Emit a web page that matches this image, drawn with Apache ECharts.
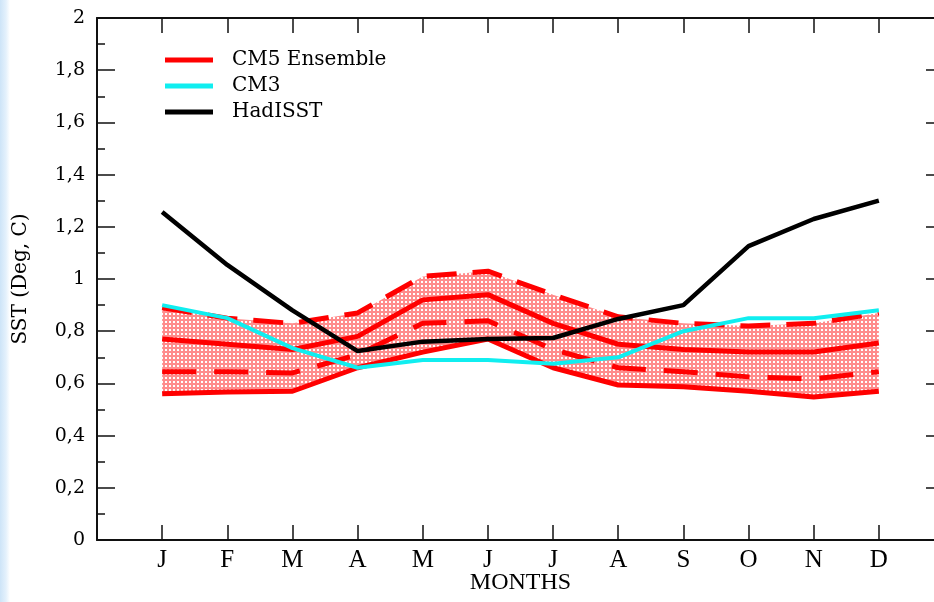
<!DOCTYPE html>
<html><head><meta charset="utf-8">
<script src="https://cdn.jsdelivr.net/npm/echarts@6/dist/echarts.min.js"></script>
<style>
html,body{margin:0;padding:0;width:934px;height:602px;overflow:hidden;background:linear-gradient(to right,#cde4f8 0px,#e4f1fc 6px,#ffffff 10px);}
#c{width:950px;height:602px;}
</style></head><body><div id="c"></div>
<script>
const months = ['J','F','M','A','M','J','J','A','S','O','N','D'];
const monthPos = [1,2,3,4,5,6,7,8,9,10,11,12];
const cm5Top    = [0.89, 0.85, 0.83, 0.87, 1.01, 1.03, 0.94, 0.855, 0.83, 0.82, 0.83, 0.87];
const cm5Mean   = [0.77, 0.75, 0.73, 0.78, 0.92, 0.94, 0.83, 0.75, 0.73, 0.72, 0.72, 0.755];
const cm5Lower  = [0.645, 0.645, 0.64, 0.71, 0.83, 0.84, 0.73, 0.66, 0.645, 0.625, 0.617, 0.645];
const cm5Bottom = [0.56, 0.567, 0.57, 0.66, 0.72, 0.77, 0.66, 0.594, 0.587, 0.57, 0.548, 0.57];
const cm3       = [0.90, 0.85, 0.735, 0.66, 0.69, 0.69, 0.675, 0.70, 0.80, 0.85, 0.85, 0.88];
const hadisst   = [1.257, 1.054, 0.88, 0.724, 0.76, 0.77, 0.774, 0.847, 0.90, 1.126, 1.23, 1.30];

const pair = arr => arr.map((v,i)=>[monthPos[i], v]);

const pc = document.createElement('canvas'); pc.width = 4; pc.height = 4;
const g = pc.getContext('2d');
g.fillStyle = 'rgba(255,0,0,0.45)'; g.fillRect(0,0,4,4);
g.clearRect(1,1,2,2);

const serif = 'Liberation Serif';
const wide = 'DejaVu Serif';
const chart = echarts.init(document.getElementById('c'));
const axisLine = {show:true, onZero:false, lineStyle:{color:'#111', width:2}};
const tickStyle = {color:'#111', width:1.5};
const lineS = (name, data, color, width, type, z) => ({
  name, type:'line', data: pair(data), symbol:'none', z: z,
  lineStyle:{color, width, type}, itemStyle:{color}, silent:true
});
chart.setOption({
  backgroundColor:'transparent',
  animation:false,
  grid:{left:97, right:6, top:18, bottom:62, containLabel:false, outerBoundsMode:'none'},
  legend:{
    orient:'vertical', left:160, top:45, itemWidth:48, itemHeight:5, itemGap:6,
    icon:'rect',
    data:['CM5 Ensemble','CM3','HadISST'],
    textStyle:{fontFamily:wide, fontSize:20, color:'#000', padding:[0,0,0,14]}
  },
  xAxis:[{
    type:'value', min:0, max:13, interval:1, position:'bottom',
    axisLine, splitLine:{show:false},
    axisTick:{inside:true, length:15, lineStyle:tickStyle},
    axisLabel:{formatter:v=> months[v-1] || '', fontFamily:serif, fontSize:25, color:'#000', margin:8},
    name:'MONTHS', nameLocation:'middle', nameGap:31, nameMoveOverlap:false,
    nameTextStyle:{fontFamily:serif, fontSize:24, color:'#000'}
  },{
    type:'value', min:0, max:13, interval:1, position:'top',
    axisLine, splitLine:{show:false},
    axisTick:{inside:true, length:15, lineStyle:tickStyle},
    axisLabel:{show:false}
  }],
  yAxis:[{
    type:'value', min:0, max:2, interval:0.2, position:'left',
    axisLine, splitLine:{show:false},
    axisTick:{inside:true, length:18, lineStyle:tickStyle},
    minorTick:{show:true, splitNumber:2, length:8, lineStyle:tickStyle},
    axisLabel:{formatter:v=> (Math.abs(v-Math.round(v))<1e-9 ? String(Math.round(v)) : v.toFixed(1).replace('.',',')),
      fontFamily:wide, fontSize:19, color:'#000', margin:12},
    name:'SST (Deg, C)', nameLocation:'middle', nameGap:66, nameRotate:90, nameMoveOverlap:false,
    nameTextStyle:{fontFamily:wide, fontSize:20, color:'#000'}
  },{
    type:'value', min:0, max:2, interval:0.2, position:'right',
    axisLine, splitLine:{show:false},
    axisTick:{inside:true, length:18, lineStyle:tickStyle},
    minorTick:{show:true, splitNumber:2, length:8, lineStyle:tickStyle},
    axisLabel:{show:false}
  }],
  series:[
    {name:'band', type:'custom', silent:true, z:1, data:[[1, cm5Top[0]]],
      renderItem:(params, api)=>{
        const pts = [];
        for (let i=0;i<monthPos.length;i++) pts.push(api.coord([monthPos[i], cm5Top[i]]));
        for (let i=monthPos.length-1;i>=0;i--) pts.push(api.coord([monthPos[i], cm5Bottom[i]]));
        return {type:'polygon', shape:{points:pts}, style:{fill:{image:pc, repeat:'repeat'}}};
      }},
    lineS('top', cm5Top, '#ff0000', 5, [30,16], 3),
    lineS('CM5 Ensemble', cm5Mean, '#ff0000', 5, 'solid', 3),
    lineS('lower', cm5Lower, '#ff0000', 5, [34,18], 3),
    lineS('bottom', cm5Bottom, '#ff0000', 5, 'solid', 3),
    lineS('CM3', cm3, '#10eef0', 4, 'solid', 4),
    lineS('HadISST', hadisst, '#000000', 4.5, 'solid', 5)
  ]
});
</script></body></html>
